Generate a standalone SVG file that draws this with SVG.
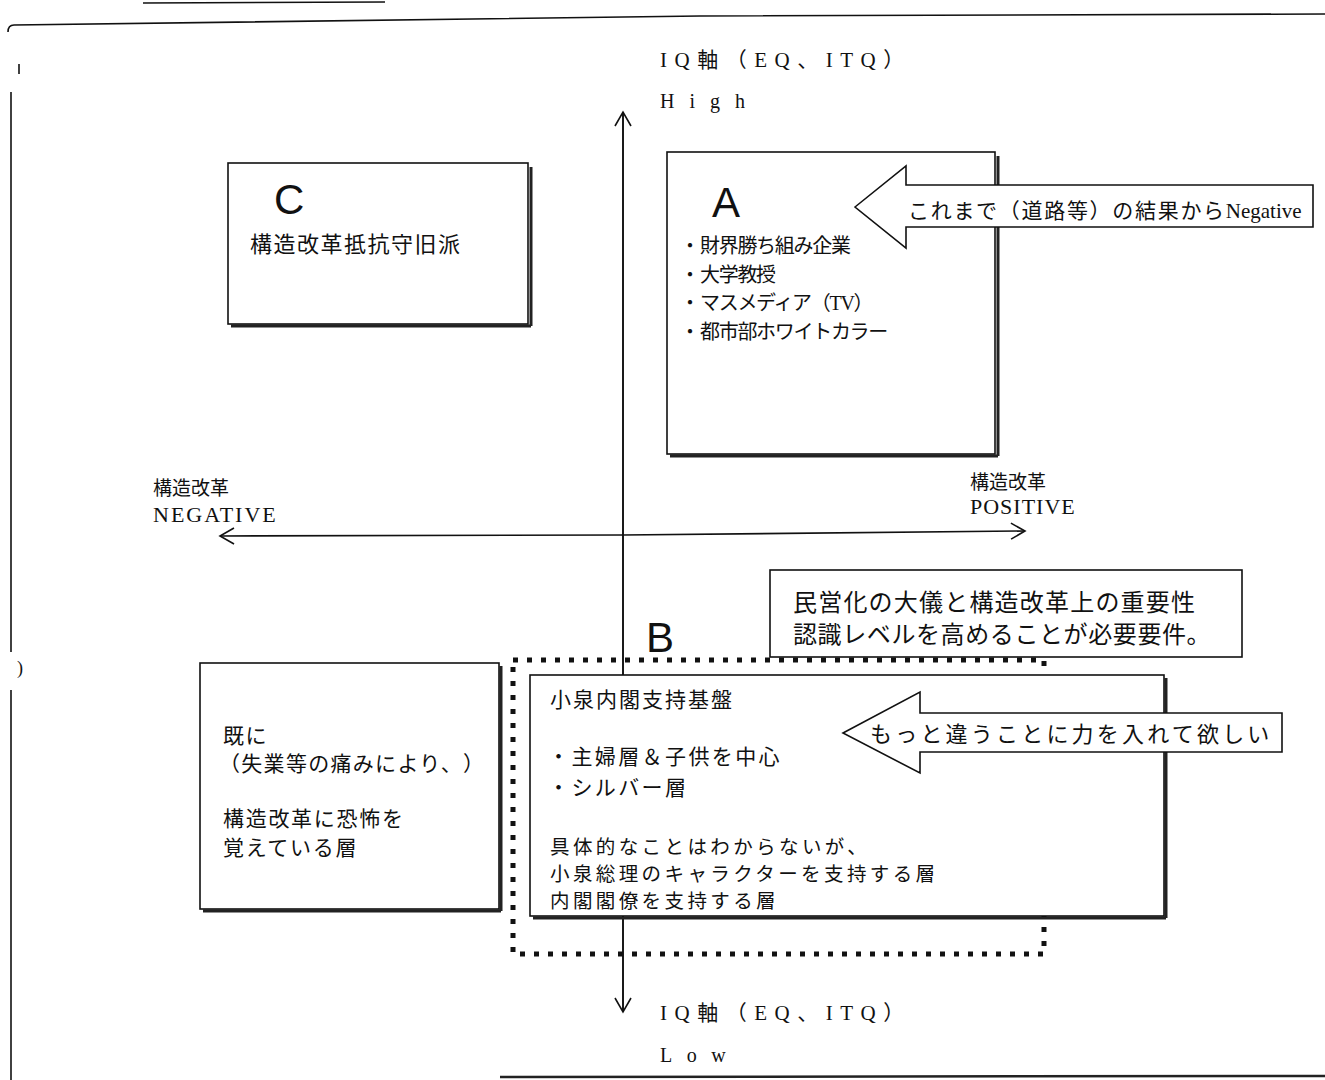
<svg xmlns="http://www.w3.org/2000/svg" width="1325" height="1080" viewBox="0 0 1325 1080">
<style>
text{text-spacing-trim:space-all}
.jp{font-family:"Noto Sans CJK JP","Noto Sans",sans-serif;fill:#111}
.sr{font-family:"Liberation Serif","Noto Sans CJK JP",serif;fill:#111}
.big{font-family:"Liberation Sans","Noto Sans",sans-serif;font-size:42px;fill:#111}
.box{fill:#fff;stroke:#111;stroke-width:1.6}
.sh{fill:none;stroke:#222;stroke-width:3}
.ln{fill:none;stroke:#111;stroke-width:1.6}
</style>
<defs>
<marker id="ch" markerWidth="20" markerHeight="20" refX="16" refY="10" orient="auto" markerUnits="userSpaceOnUse">
<path d="M2,2 L16,10 L2,18" fill="none" stroke="#111" stroke-width="1.6"/>
</marker>
</defs>
<rect width="1325" height="1080" fill="#fff"/>
<g id="frame">
<path class="ln" d="M143,3 L385,2"/>
<path class="ln" d="M8,32 Q8,25 14,25 L700,16 L1325,14"/>
<path class="ln" d="M19,64 L19,74"/>
<path class="ln" d="M11,92 L11,652"/>
<path class="ln" d="M11,690 L11,1080"/>
<text x="17" y="674" class="sr" font-size="18">)</text>
<path d="M500,1077 L1325,1076" fill="none" stroke="#222" stroke-width="2.5"/>
</g>
<g id="connectors">
<path class="ln" d="M623,1012 L623,112" marker-end="url(#ch)"/>
<path class="ln" d="M623,112 L623,1012" marker-end="url(#ch)"/>
<path class="ln" d="M623,535 L220,536" marker-end="url(#ch)"/>
<path class="ln" d="M623,535 L1025,531" marker-end="url(#ch)"/>
</g>
<g id="axis-labels">
<text x="660" y="67" class="sr" font-size="21" letter-spacing="7.5">IQ軸（EQ、ITQ）</text>
<text x="660" y="108" class="sr" font-size="20" letter-spacing="15">High</text>
<text x="660" y="1020" class="sr" font-size="21" letter-spacing="7.5">IQ軸（EQ、ITQ）</text>
<text x="660" y="1062" class="sr" font-size="20" letter-spacing="14.5">Low</text>
<text x="153" y="495" class="jp" font-size="19">構造改革</text>
<text x="153" y="522" class="sr" font-size="22" letter-spacing="2">NEGATIVE</text>
<text x="970" y="489" class="jp" font-size="19">構造改革</text>
<text x="970" y="514" class="sr" font-size="22" letter-spacing="1">POSITIVE</text>
</g>
<g id="node-c">
<path class="sh" d="M231,326 L531,326 M531,167 L531,326"/>
<rect class="box" x="228" y="163" width="300" height="161"/>
<text x="274" y="214" class="big">C</text>
<text x="250" y="252" class="jp" font-size="22" letter-spacing="1.5">構造改革抵抗守旧派</text>
</g>
<g id="node-a">
<path class="sh" d="M670,456 L998,456 M998,156 L998,456"/>
<rect class="box" x="667" y="152" width="328" height="302"/>
<text x="712" y="217" class="big">A</text>
<text x="680" y="253" class="jp" font-size="20">・<tspan letter-spacing="-1.3">財界勝ち組み企業</tspan></text>
<text x="680" y="282" class="jp" font-size="20">・<tspan letter-spacing="-1.3">大学教授</tspan></text>
<text x="680" y="310" class="jp" font-size="20">・<tspan letter-spacing="-1.3">マスメディア（<tspan class="sr">TV</tspan>）</tspan></text>
<text x="680" y="339" class="jp" font-size="20">・<tspan letter-spacing="-1.3">都市部ホワイトカラー</tspan></text>
</g>
<g id="callout-negative">
<path d="M855,207 L906,166 L906,185 L1313,185 L1313,227 L906,227 L906,248 Z" fill="#fff" stroke="#111" stroke-width="1.6"/>
<text x="908" y="218" class="jp" font-size="21" letter-spacing="1.7">これまで（道路等）の結果から<tspan class="sr" font-size="21" letter-spacing="0">Negative</tspan></text>
</g>
<g id="node-note">
<rect class="box" x="770" y="570" width="472" height="87"/>
<text x="793" y="611" class="jp" font-size="24" letter-spacing="1.2">民営化の大儀と構造改革上の重要性</text>
<text x="793" y="643" class="jp" font-size="24" letter-spacing="0.6">認識レベルを高めることが必要要件。</text>
</g>
<g id="node-b-group">
<text x="646" y="652" class="big">B</text>
<rect x="513" y="660" width="531" height="294" fill="none" stroke="#111" stroke-width="5" stroke-dasharray="5 9"/>
</g>
<g id="node-left">
<path class="sh" d="M203,911 L501,911 M501,666 L501,911"/>
<rect class="box" x="200" y="663" width="299" height="246"/>
<text x="223" y="743" class="jp" font-size="21" letter-spacing="1.5">既に</text>
<text x="219" y="771" class="jp" font-size="21" letter-spacing="1.3">（失業等の痛みにより、）</text>
<text x="223" y="826" class="jp" font-size="21" letter-spacing="1.7">構造改革に恐怖を</text>
<text x="223" y="855" class="jp" font-size="21" letter-spacing="1.7">覚えている層</text>
</g>
<g id="node-b">
<path class="sh" d="M533,918 L1166,918 M1166,678 L1166,918"/>
<rect class="box" x="530" y="675" width="634" height="241"/>
<text x="550" y="707" class="jp" font-size="21" letter-spacing="2">小泉内閣支持基盤</text>
<text x="548" y="764" class="jp" font-size="21" letter-spacing="2.4">・主婦層＆子供を中心</text>
<text x="548" y="795" class="jp" font-size="21" letter-spacing="2.4">・シルバー層</text>
<text x="550" y="854" class="jp" font-size="19.5" letter-spacing="3.4">具体的なことはわからないが、</text>
<text x="550" y="881" class="jp" font-size="19.5" letter-spacing="3.4">小泉総理のキャラクターを支持する層</text>
<text x="550" y="908" class="jp" font-size="19.5" letter-spacing="3.4">内閣閣僚を支持する層</text>
</g>
<g id="callout-more">
<path d="M843,733 L920,692 L920,713 L1282,713 L1282,752 L920,752 L920,773 Z" fill="#fff" stroke="#111" stroke-width="1.6"/>
<text x="870" y="742" class="jp" font-size="22" letter-spacing="3.2">もっと違うことに力を入れて欲しい</text>
</g>
</svg>
